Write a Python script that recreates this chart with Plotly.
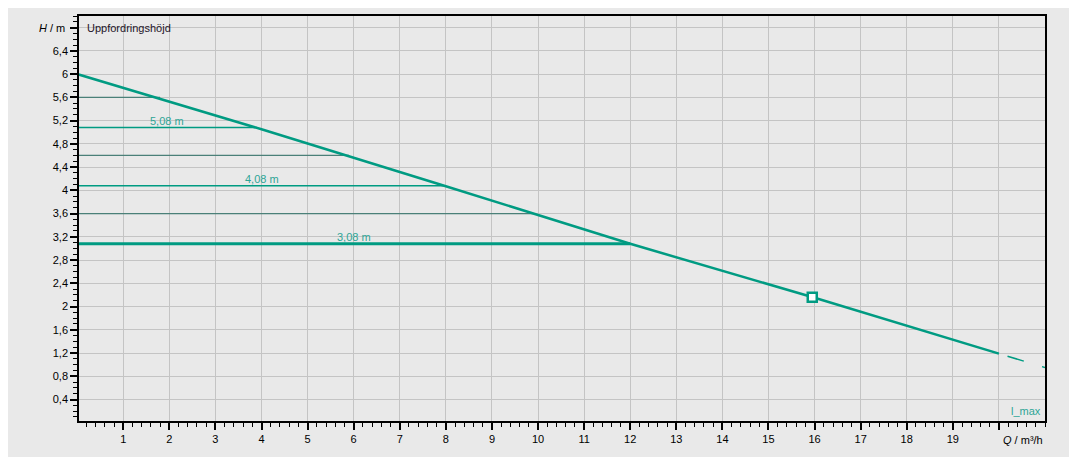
import plotly.graph_objects as go

# pump curve (Q in m³/h, H in m)
curve_q = [0, 4, 8, 12, 16, 20]
curve_h = [6.0, 5.05, 4.07, 3.08, 2.15, 1.19]
ext_q = [20, 21]
ext_h = [1.19, 0.95]

# duty point
duty_q = [15.95]
duty_h = [2.16]

# reference levels (labelled, teal) and the helper levels between them
level_h = [5.08, 4.08, 3.08]
level_q_end = [3.9, 8.0, 12.0]
level_text = ["5,08 m", "4,08 m", "3,08 m"]
helper_h = [5.6, 4.6, 3.6]
helper_q_end = [1.8, 5.9, 9.9]

x_ticks = list(range(1, 21))
x_ticktext = [str(v) for v in range(1, 20)] + [""]
y_ticks = [0.4, 0.8, 1.2, 1.6, 2.0, 2.4, 2.8, 3.2, 3.6, 4.0, 4.4, 4.8, 5.2, 5.6, 6.0, 6.4, 6.8]
y_ticktext = ["0,4", "0,8", "1,2", "1,6", "2", "2,4", "2,8", "3,2", "3,6", "4", "4,4", "4,8",
              "5,2", "5,6", "6", "6,4", ""]

TEAL = "#009b82"
TEXT_TEAL = "#2ea596"
BG = "#e9e9e9"
GRID = "#c4c4c4"

fig = go.Figure()

for h, q in zip(helper_h, helper_q_end):
    fig.add_trace(go.Scatter(x=[0, q], y=[h, h], mode="lines",
                             line=dict(color="#4a8078", width=1.2), hoverinfo="skip"))

for i, (h, q) in enumerate(zip(level_h, level_q_end)):
    fig.add_trace(go.Scatter(x=[0, q], y=[h, h], mode="lines",
                             line=dict(color=TEAL, width=3 if i == 2 else 1.5), hoverinfo="skip"))
    fig.add_annotation(x=q / 2, y=h, text=level_text[i], showarrow=False, yshift=7,
                       font=dict(size=11, color=TEXT_TEAL))

fig.add_trace(go.Scatter(x=curve_q, y=curve_h, mode="lines",
                         line=dict(color=TEAL, width=2.5)))
fig.add_trace(go.Scatter(x=ext_q, y=ext_h, mode="lines",
                         line=dict(color=TEAL, width=1.5, dash="0px,9px,17px,10px")))
fig.add_trace(go.Scatter(x=duty_q, y=duty_h, mode="markers",
                         marker=dict(symbol="square", size=9, color="white",
                                     line=dict(color=TEAL, width=2.5))))

fig.add_annotation(xref="paper", yref="y", x=0.006, y=6.8, text="Uppfordringshöjd",
                   showarrow=False, xanchor="left", font=dict(size=11, color="#1e1428"))
fig.add_annotation(xref="paper", yref="y", x=-0.012, y=6.8, text="<i>H</i> / m",
                   showarrow=False, xanchor="right", font=dict(size=11, color="black"))
fig.add_annotation(xref="paper", yref="paper", x=1.0, y=0, yshift=-19, text="<i>Q</i> / m³/h",
                   showarrow=False, xanchor="right", yanchor="middle",
                   font=dict(size=11, color="black"))
fig.add_annotation(xref="paper", yref="paper", x=0.998, y=0.005, text="l_max",
                   showarrow=False, xanchor="right", yanchor="bottom",
                   font=dict(size=11, color=TEXT_TEAL))

# the page body has an 8px margin, so the figure is sized and padded to land where the reference is
fig.update_layout(
    width=1069, height=449,
    margin=dict(l=71, r=32, t=6, b=36),
    paper_bgcolor=BG, plot_bgcolor=BG,
    showlegend=False,
    font=dict(family="Liberation Sans, Arial, sans-serif", size=11, color="black"),
    xaxis=dict(
        range=[0.04, 21.0], tickvals=x_ticks, ticktext=x_ticktext,
        showgrid=True, gridcolor=GRID, gridwidth=1.2, zeroline=False,
        showline=True, linecolor="black", linewidth=1.5, mirror=True,
        ticks="outside", ticklen=7, tickcolor="black", tickwidth=1.5,
        minor=dict(dtick=0.2, tick0=0, ticks="outside", ticklen=4, tickcolor="black",
                   tickwidth=1, showgrid=False),
    ),
    yaxis=dict(
        range=[0.03, 7.0], tickvals=y_ticks, ticktext=y_ticktext,
        showgrid=True, gridcolor=GRID, gridwidth=1.2, zeroline=False,
        showline=True, linecolor="black", linewidth=1.5, mirror=True,
        ticks="outside", ticklen=7, tickcolor="black", tickwidth=1.5,
        minor=dict(dtick=0.1, tick0=0, ticks="outside", ticklen=4, tickcolor="black",
                   tickwidth=1, showgrid=False),
    ),
)

fig.write_html("out.html")
